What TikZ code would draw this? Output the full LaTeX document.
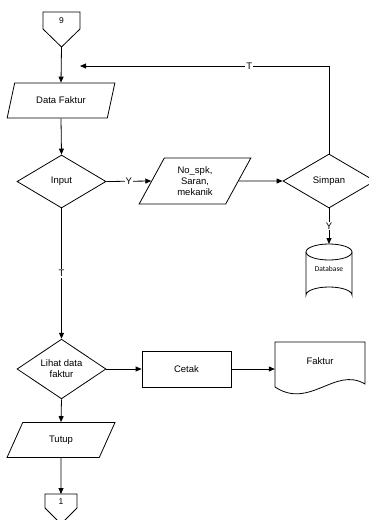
\documentclass[tikz,border=0pt]{standalone}
\usepackage{fontspec}
\setmainfont{Liberation Sans}
\newfontfamily\dbfont{Carlito}
\usetikzlibrary{shapes.geometric,arrows.meta}
\begin{document}
\begin{tikzpicture}[x=1pt,y=-1pt,
  every node/.style={font=\fontsize{9.5}{11}\selectfont},
  line/.style={line width=0.8pt},
  flow/.style={line, -{Triangle[length=6pt,width=5pt]}},
  io/.style={trapezium, trapezium left angle=60, trapezium right angle=120,
    trapezium stretches=true, draw, line width=0.8pt, inner sep=0pt, align=center},
  decision/.style={diamond, draw, line width=0.8pt, inner sep=0pt, align=center},
  process/.style={rectangle, draw, line width=0.8pt, minimum width=89pt, minimum height=36pt},
  lbl/.style={fill=white, inner sep=1pt},
  conn/.style={font=\fontsize{8.5}{10}\selectfont}
]
\clip (0,0) rectangle (369,520);
\useasboundingbox (0,0) rectangle (369,520);

% off-page connector 9
\node[conn] (c9) at (61.5,21) {9};
\draw[line] (43,12) -- (80,12) -- (80,29) -- (61.5,47) -- (43,29) -- cycle;
\coordinate (c9tip) at (61.5,47);

% input / output blocks
\node[io, minimum width=108pt, minimum height=35pt] (df) at (61,100.5) {Data Faktur};
\node[decision, minimum width=89pt, minimum height=53pt] (input) at (61.5,181.5) {Input};
\node[io, trapezium left angle=63.4, trapezium right angle=116.6,
      minimum width=112pt, minimum height=46pt] (nospk) at (195,181) {No\_spk,\\Saran,\\mekanik};
\node[decision, minimum width=92pt, minimum height=54pt] (simpan) at (329,181) {Simpan};

% database cylinder
\draw[line, fill=white] (306,252) -- (306,295) arc[start angle=180, end angle=360, x radius=23, y radius=8] -- (352,252);
\draw[line] (329,252) ellipse[x radius=23, y radius=8];
\node[font=\dbfont\fontsize{7.5}{9}\selectfont] (db) at (329,269) {Database};
\coordinate (dbtop) at (329,244);

% lower part
\node[decision, minimum width=89pt, minimum height=54pt] (lihat) at (61.5,369) {Lihat data\\faktur};
\node[process] (cetak) at (186.5,369) {Cetak};
\node[minimum width=90pt, minimum height=45pt, inner sep=0pt] (faktur) at (320,364.5) {};
\draw[line] (275,342) -- (365,342) -- (365,384)
  .. controls (335,366) and (310,410) .. (275,387) -- cycle;
\node at (320,361) {Faktur};
\node[io, minimum width=108pt, minimum height=35pt] (tutup) at (61,440) {Tutup};

% off-page connector 1
\node[conn] (c1) at (61,502) {1};
\draw[line] (45,494) -- (77,494) -- (77,508) -- (61,524) -- (45,508) -- cycle;
\coordinate (c1top) at (61,494);

% connectors
\coordinate (tback) at (80,66);
\draw[flow] (c9tip) -- (df.north);
\draw[flow] (df.south) -- (input.north);
\draw[flow] (input.east) -- node[lbl, pos=0.5] {Y} (nospk.west);
\draw[flow] (nospk.east) -- (simpan.west);
\draw[flow] (simpan.north) |- node[lbl, pos=0.66] {T} (tback);
\draw[flow] (simpan.south) -- node[lbl] {Y} (dbtop);
\draw[flow] (input.south) -- node[lbl] {T} (lihat.north);
\draw[flow] (lihat.east) -- (cetak.west);
\draw[flow] (cetak.east) -- (cetak.east -| faktur.west);
\draw[flow] (lihat.south) -- (tutup.north);
\draw[flow] (tutup.south) -- (c1top);
\end{tikzpicture}
\end{document}
